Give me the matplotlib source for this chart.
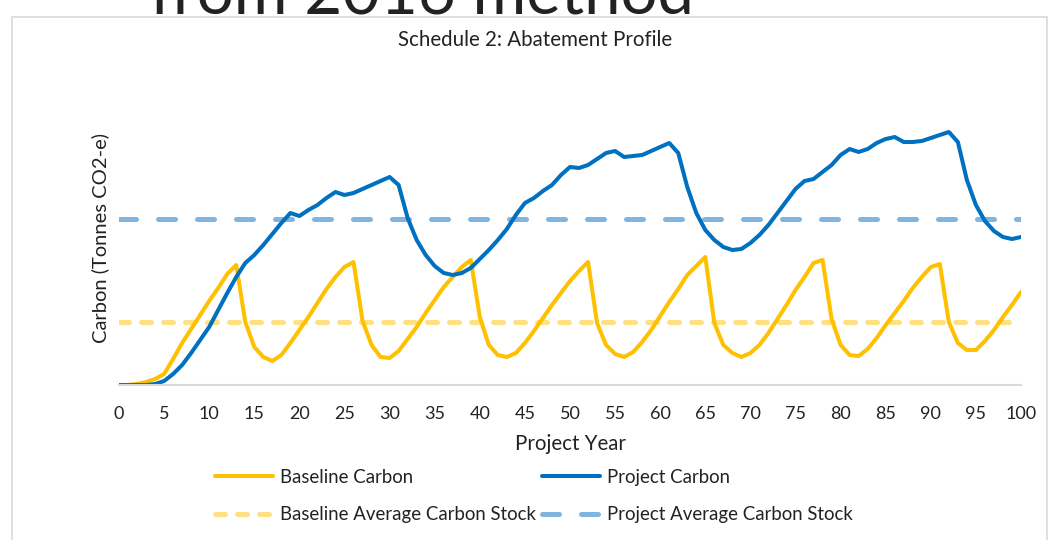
import matplotlib.pyplot as plt
from matplotlib.patches import Rectangle

plt.rcParams['font.family'] = ['Lato', 'DejaVu Sans']

# yearly carbon stock (arbitrary units, y axis has no labels)
years = list(range(0, 101))
baseline_carbon = [0, 0, 1, 3, 6, 11, 26, 42, 56, 70, 84, 97, 111, 120,
                   63, 38, 28, 24, 30, 42, 55, 68, 82, 96, 108, 118, 123,
                   64, 40, 28, 27, 34, 46, 58, 72, 85, 98, 108, 118, 125,
                   68, 40, 30, 28, 32, 42, 54, 67, 80, 92, 104, 114, 123,
                   62, 40, 31, 28, 33, 43, 55, 69, 83, 96, 110, 119, 128,
                   62, 40, 32, 28, 32, 40, 52, 66, 80, 95, 108, 122, 125,
                   66, 40, 30, 29, 36, 47, 60, 72, 84, 97, 108, 118, 121,
                   63, 42, 35, 35, 44, 55, 68, 80, 93]
project_carbon = [0, 0, 0, 0, 1, 4, 11, 20, 32, 45, 58, 75, 92, 108,
                  122, 130, 140, 151, 162, 172, 169, 175, 180, 187, 193, 190,
                  192, 196, 200, 204, 208, 200, 167, 145, 130, 119, 112, 110,
                  112, 117, 126, 135, 145, 156, 170, 182, 187, 194, 200, 210,
                  218, 217, 220, 226, 232, 234, 228, 229, 230, 234, 238, 242,
                  232, 198, 172, 155, 145, 138, 135, 136, 142, 150, 160, 172,
                  184, 196, 204, 206, 213, 220, 230, 236, 233, 236, 242, 246,
                  248, 243, 243, 244, 247, 250, 253, 243, 205, 180, 164, 154,
                  148, 146, 148]
baseline_avg = 63
project_avg = 166
xticks = list(range(0, 101, 5))

W, H = 1051, 540
fig = plt.figure(figsize=(W / 100, H / 100), dpi=100)

# clipped heading from the page above the chart
fig.text(150 / W, 1 - 14 / H, 'from 2016 method', fontsize=47, color='#222222',
         ha='left', va='baseline', zorder=0)
# chart frame
fig.patches.append(Rectangle((12 / W, -0.05), (1047 - 12) / W, 1 - 17 / H + 0.05,
                             transform=fig.transFigure, facecolor='white',
                             edgecolor='#d9d9d9', linewidth=1.2, zorder=1))

ax = fig.add_axes([119 / W, (H - 385) / H, 902 / W, 296 / H])
ax.set_zorder(2)
ax.patch.set_alpha(0)

yellow, blue = '#FFC000', '#0070C0'
yellow_l, blue_l = '#FFE083', '#7FB5E0'

ax.plot(years, [baseline_avg] * len(years), color=yellow_l, lw=3.6,
        dashes=(2.0, 2.4), dash_capstyle='round', label='Baseline Average Carbon Stock')
ax.plot(years, [project_avg] * len(years), color=blue_l, lw=3.6,
        dashes=(3.4, 4.4), dash_capstyle='round', label='Project Average Carbon Stock')
ax.plot(years, baseline_carbon, color=yellow, lw=2.9, solid_joinstyle='round',
        solid_capstyle='round', label='Baseline Carbon')
ax.plot(years, project_carbon, color=blue, lw=2.9, solid_joinstyle='round',
        solid_capstyle='round', label='Project Carbon')

ax.set_xlim(0, 100)
ax.set_ylim(0, 296)
ax.set_xticks(xticks)
ax.set_yticks([])
ax.tick_params(axis='x', length=0, pad=15, labelsize=13, labelcolor='#222222')
for s in ['top', 'right', 'left']:
    ax.spines[s].set_visible(False)
ax.spines['bottom'].set_color('#d9d9d9')
ax.spines['bottom'].set_linewidth(1.5)

fig.text(535 / W, 1 - 40 / H, 'Schedule 2: Abatement Profile', fontsize=14.8,
         color='#222222', ha='center', va='center')
fig.text(570 / W, 1 - 444 / H, 'Project Year', fontsize=14.8,
         color='#222222', ha='center', va='center')
fig.text(100 / W, 1 - 238 / H, 'Carbon (Tonnes CO2-e)', fontsize=14.5,
         color='#222222', ha='center', va='center', rotation=90)

handles, labels = ax.get_legend_handles_labels()
order = [2, 0, 3, 1]
leg = fig.legend([handles[i] for i in order], [labels[i] for i in order],
                 loc='center', bbox_to_anchor=(534 / W, 1 - 496 / H), ncol=2,
                 frameon=False, fontsize=13.4, handlelength=3.1, handletextpad=0.4,
                 columnspacing=0.3, labelspacing=1.1, labelcolor='#222222')

fig.savefig('out.png', dpi=100)
